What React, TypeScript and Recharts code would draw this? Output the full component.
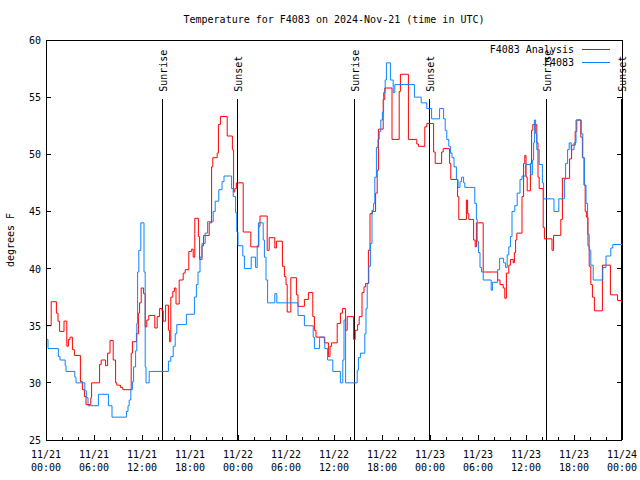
import React from 'react';
import { LineChart, Line, XAxis, YAxis, ReferenceLine } from 'recharts';

// hours since 2024-11-21 00:00 UTC
const redTimes = [
  0, 0.65, 1.3, 1.5, 1.7, 2.25, 2.6, 2.8, 3.0, 3.3, 3.55, 4.3, 4.55, 4.8, 5.0, 5.6, 5.7, 6.7, 6.9, 7.45,
  7.7, 8.0, 8.4, 8.7, 8.85, 9.3, 9.6, 10.65, 10.8, 11.3, 11.55, 11.7, 11.9, 12.2, 12.4, 12.6, 12.85, 13.6, 13.9, 14.2,
  14.5, 14.65, 14.95, 15.3, 15.45, 15.6, 15.85, 16.05, 16.25, 16.65, 17.15, 17.4, 17.85, 18.2, 18.4, 18.6, 19.05, 19.2, 19.5, 19.7,
  20.4, 20.7, 20.85, 21.4, 21.55, 21.8, 22.65, 23.3, 23.45, 23.6, 23.8, 24.65, 25.6, 26.6, 26.75, 27.65, 27.9, 28.6, 28.8, 29.55,
  29.8, 30.0, 30.15, 30.6, 31.3, 31.5, 32.3, 32.8, 33.35, 33.55, 33.75, 34.8, 35.3, 35.5, 35.7, 36.4, 36.8, 37.05, 37.45, 37.65,
  38.45, 38.65, 38.95, 39.15, 39.5, 39.75, 39.95, 40.3, 40.5, 40.8, 41.2, 41.4, 41.55, 42.15, 42.35, 43.25, 44.15, 44.3, 45.3, 46.35,
  46.55, 47.35, 47.6, 48.45, 48.65, 49.45, 49.65, 50.45, 50.6, 51.45, 51.6, 52.55, 52.7, 52.85, 53.45, 53.65, 53.8, 54.65, 56.45, 56.75,
  57.15, 57.35, 57.55, 57.85, 58.05, 58.4, 58.55, 58.7, 58.85, 59.5, 59.7, 59.85, 60.0, 60.15, 60.55, 60.7, 60.85, 61.35, 61.5, 61.65,
  62.15, 62.3, 63.25, 63.45, 64.35, 64.55, 65.45, 65.7, 66.15, 66.35, 66.85, 67.05, 67.25, 67.4, 67.55, 67.75, 67.9, 68.1, 68.3, 68.55,
  69.55, 70.55, 71.45, 72,
];
const redTemps = [
  35.0, 37.1, 36.1, 35.4, 34.5, 35.4, 33.2, 33.8, 34.0, 32.9, 32.4, 30.1, 29.4, 28.8, 28.1, 28.7, 30.0, 31.6, 32.0, 31.5,
  32.6, 33.7, 32.0, 30.0, 29.8, 29.6, 29.4, 32.6, 33.6, 34.3, 36.1, 37.0, 38.3, 37.8, 34.9, 35.5, 35.9, 34.8, 35.8, 36.5,
  36.3, 35.4, 36.8, 34.6, 33.6, 37.5, 38.0, 38.3, 36.9, 39.0, 39.6, 39.9, 41.5, 41.7, 41.0, 44.4, 42.8, 40.8, 42.0, 42.9,
  44.0, 48.9, 49.7, 50.1, 52.6, 53.3, 51.6, 50.4, 46.7, 47.0, 47.5, 43.2, 41.9, 43.7, 44.6, 41.6, 42.7, 41.8, 42.4, 40.2,
  39.3, 38.6, 36.2, 39.2, 37.7, 36.7, 37.3, 37.9, 35.8, 34.6, 34.0, 33.5, 32.3, 33.2, 33.5, 35.2, 36.1, 36.5, 34.6, 35.8,
  33.8, 34.6, 35.1, 35.8, 37.9, 38.4, 38.7, 41.6, 44.8, 45.0, 46.6, 48.6, 52.2, 54.8, 55.8, 51.3, 55.5, 57.0, 51.3, 50.9,
  50.7, 52.4, 52.7, 50.2, 49.2, 50.2, 50.5, 49.2, 47.8, 46.3, 44.3, 46.0, 44.8, 44.3, 42.5, 41.9, 44.0, 39.7, 39.0, 38.6,
  38.3, 37.4, 39.6, 40.3, 40.8, 40.5, 41.4, 42.5, 43.1, 46.3, 49.2, 49.9, 48.0, 46.8, 49.2, 52.1, 52.6, 51.0, 48.0, 47.0,
  43.6, 42.6, 41.6, 42.9, 44.3, 47.9, 49.6, 50.8, 52.0, 53.0, 51.5, 49.7, 47.3, 45.0, 44.5, 42.0, 40.2, 38.6, 37.5, 36.3,
  40.3, 37.7, 37.2, 37.0,
];

const blueTimes = [
  0, 0.25, 1.55, 1.75, 2.4, 2.5, 3.6, 3.75, 4.85, 5.05, 5.25, 6.55, 7.8, 8.25, 10.05, 10.25, 10.4, 10.6, 10.8, 10.95,
  11.2, 11.35, 11.45, 11.6, 11.85, 12.25, 12.4, 12.5, 12.9, 15.3, 15.6, 15.9, 16.15, 16.35, 17.55, 18.55, 18.8, 19.0, 19.25, 19.5,
  19.9, 20.2, 20.9, 21.15, 21.6, 22.0, 22.25, 23.2, 23.4, 23.7, 23.85, 24.0, 24.6, 24.8, 25.65, 26.2, 26.4, 26.55, 27.15, 27.3,
  27.5, 27.7, 28.6, 28.85, 31.5, 32.3, 33.4, 33.55, 34.2, 34.85, 35.2, 35.85, 36.8, 37.1, 37.25, 37.45, 38.9, 39.05, 39.3, 39.85,
  40.0, 40.15, 40.35, 40.55, 40.75, 40.95, 41.1, 41.3, 41.5, 41.65, 41.85, 42.05, 42.2, 42.4, 42.55, 43.05, 43.4, 43.6, 46.05, 46.9,
  47.6, 48.2, 49.2, 49.7, 49.9, 50.1, 50.35, 50.55, 50.75, 51.0, 51.3, 51.5, 51.75, 51.95, 52.2, 52.35, 53.6, 53.8, 53.9, 54.05,
  54.25, 54.45, 54.65, 55.65, 55.8, 56.45, 56.7, 57.2, 57.45, 57.65, 57.85, 58.05, 58.25, 58.6, 58.9, 59.25, 59.5, 59.95, 60.6, 60.8,
  60.95, 61.05, 61.2, 61.35, 61.65, 62.05, 62.2, 63.5, 64.1, 64.8, 64.95, 65.2, 65.4, 65.65, 66.0, 66.25, 66.9, 67.1, 67.3, 67.5,
  67.7, 67.9, 68.1, 68.4, 69.6, 70.0, 70.6, 70.85, 72,
];
const blueTemps = [
  33.8, 33.0, 32.3, 32.0, 31.5, 31.0, 30.5, 30.0, 29.3, 28.7, 28.0, 29.0, 28.0, 27.0, 27.5, 28.0, 28.5, 29.4, 30.1, 31.4,
  32.8, 35.2, 39.7, 41.6, 44.0, 39.7, 31.4, 30.0, 31.0, 31.9, 32.3, 33.2, 34.3, 35.1, 36.0, 37.5, 38.6, 39.7, 41.0, 42.2,
  43.1, 44.1, 45.0, 45.9, 46.9, 47.6, 48.1, 47.0, 46.3, 44.9, 43.2, 42.0, 41.1, 40.0, 41.0, 40.1, 42.0, 44.0, 42.5, 41.0,
  39.0, 37.0, 37.8, 37.0, 35.9, 35.0, 34.0, 33.0, 34.0, 33.0, 32.0, 31.0, 30.0, 32.0, 35.5, 30.0, 31.1, 32.2, 32.6, 34.3,
  36.5, 38.7, 40.2, 42.2, 45.1, 45.7, 48.0, 50.6, 51.3, 52.0, 53.0, 53.7, 55.4, 56.5, 58.0, 56.5, 55.4, 56.1, 55.0, 54.5,
  54.0, 53.1, 54.0, 53.1, 52.1, 51.3, 50.7, 50.1, 49.7, 48.9, 47.8, 47.1, 47.6, 48.0, 47.5, 47.1, 45.7, 44.3, 42.4, 41.4,
  40.1, 39.7, 39.0, 38.1, 38.8, 39.9, 40.9, 40.5, 40.1, 41.2, 41.9, 42.8, 45.0, 45.5, 46.6, 47.8, 48.1, 49.1, 48.2, 49.5,
  51.0, 53.0, 51.8, 50.4, 49.1, 47.5, 46.1, 45.0, 46.1, 47.8, 49.2, 50.4, 51.0, 50.4, 51.0, 53.0, 51.8, 49.7, 47.3, 45.7,
  43.0, 41.6, 40.3, 39.0, 40.1, 41.1, 41.8, 42.1, 42.1,
];

const sunEvents = [
  { t: 14.5, label: 'Sunrise' },
  { t: 23.875, label: 'Sunset' },
  { t: 38.5, label: 'Sunrise' },
  { t: 47.875, label: 'Sunset' },
  { t: 62.5, label: 'Sunrise' },
  { t: 71.875, label: 'Sunset' },
];

const xTicks = Array.from({ length: 37 }, (_, i) => i * 2);
const yTicks = [25, 30, 35, 40, 45, 50, 55, 60];

const redData = redTimes.map((t, i) => ({ t, v: redTemps[i] }));
const blueData = blueTimes.map((t, i) => ({ t, v: blueTemps[i] }));

const FONT = '"DejaVu Sans Mono", "Liberation Mono", monospace';
const pad = (n: number) => (n < 10 ? '0' + n : '' + n);

const BottomTick = (props: any) => {
  const { x, y, payload } = props;
  const h = payload.value;
  const major = h % 6 === 0;
  return (
    <g>
      <line x1={x} y1={y} x2={x} y2={y - (major ? 5 : 3)} stroke="#000" shapeRendering="crispEdges" />
      {major && (
        <text x={x} y={y + 18} textAnchor="middle" fontSize={10} fontFamily={FONT} fill="#000">
          <tspan x={x}>{`11/${21 + Math.floor(h / 24)}`}</tspan>
          <tspan x={x} dy={13}>{`${pad(h % 24)}:00`}</tspan>
        </text>
      )}
    </g>
  );
};

const TopTick = (props: any) => {
  const { x, y, payload } = props;
  const major = payload.value % 6 === 0;
  return <line x1={x} y1={y} x2={x} y2={y + (major ? 5 : 3)} stroke="#000" shapeRendering="crispEdges" />;
};

const LeftTick = (props: any) => {
  const { x, y, payload } = props;
  return (
    <g>
      <line x1={x} y1={y} x2={x + 5} y2={y} stroke="#000" shapeRendering="crispEdges" />
      <text x={x - 5} y={y + 4} textAnchor="end" fontSize={10} fontFamily={FONT} fill="#000">
        {payload.value}
      </text>
    </g>
  );
};

const RightTick = (props: any) => {
  const { x, y } = props;
  return <line x1={x} y1={y} x2={x - 5} y2={y} stroke="#000" shapeRendering="crispEdges" />;
};

const sunShape = (label: string) => (props: any) => {
  const { x1, y1, x2, y2 } = props;
  const top = Math.min(y1, y2);
  const ty = top - 7;
  return (
    <g>
      <line x1={x1} y1={y1} x2={x2} y2={y2} stroke="#000" strokeWidth={1} shapeRendering="crispEdges" />
      <text
        x={x1 + 1.5}
        y={ty}
        transform={`rotate(-90 ${x1 + 1.5} ${ty})`}
        textAnchor="start"
        dominantBaseline="central"
        fontSize={10}
        fontFamily={FONT}
        fill="#000"
      >
        {label}
      </text>
    </g>
  );
};

const axisLine = { stroke: '#000', shapeRendering: 'crispEdges' };

export default function App() {
  return (
    <div style={{ position: 'absolute', left: 0, top: 0, width: 640, height: 480, background: '#fff' }}>
      <LineChart width={640} height={480} margin={{ top: 39, right: 17, bottom: 39, left: 45 }}>
        <XAxis
          dataKey="t"
          type="number"
          domain={[0, 72]}
          allowDataOverflow
          ticks={xTicks}
          interval={0}
          tickSize={0}
          tickMargin={0}
          height={1}
          axisLine={axisLine}
          tickLine={false}
          tick={<BottomTick />}
        />
        <XAxis
          xAxisId="top"
          orientation="top"
          type="number"
          domain={[0, 72]}
          allowDataOverflow
          ticks={xTicks}
          interval={0}
          tickSize={0}
          tickMargin={0}
          height={1}
          axisLine={axisLine}
          tickLine={false}
          tick={<TopTick />}
        />
        <YAxis
          type="number"
          domain={[25, 60]}
          allowDataOverflow
          ticks={yTicks}
          interval={0}
          tickSize={0}
          tickMargin={0}
          width={1}
          axisLine={axisLine}
          tickLine={false}
          tick={<LeftTick />}
        />
        <YAxis
          yAxisId="right"
          orientation="right"
          type="number"
          domain={[25, 60]}
          allowDataOverflow
          ticks={yTicks}
          interval={0}
          tickSize={0}
          tickMargin={0}
          width={1}
          axisLine={axisLine}
          tickLine={false}
          tick={<RightTick />}
        />
        {sunEvents.map((e, i) => (
          <ReferenceLine
            key={i}
            segment={[{ x: e.t, y: 54.85 }, { x: e.t, y: 25 }]}
            stroke="#000"
            shape={sunShape(e.label)}
          />
        ))}
        <Line
          data={redData}
          dataKey="v"
          type="stepAfter"
          stroke="#ff0000"
          strokeWidth={1}
          dot={false}
          isAnimationActive={false}
        />
        <Line
          data={blueData}
          dataKey="v"
          type="stepAfter"
          stroke="#0a84ff"
          strokeWidth={1}
          dot={false}
          isAnimationActive={false}
        />
      </LineChart>
      <svg
        width={640}
        height={480}
        style={{ position: 'absolute', left: 0, top: 0, pointerEvents: 'none' }}
        fontFamily={FONT}
        fontSize={10}
      >
        <text x={334} y={23} textAnchor="middle" fill="#000">
          Temperature for F4083 on 2024-Nov-21 (time in UTC)
        </text>
        <text x={10} y={240} transform="rotate(-90 10 240)" textAnchor="middle" dominantBaseline="central" fill="#000">
          degrees F
        </text>
        <text x={574} y={53} textAnchor="end" fill="#000">F4083 Analysis</text>
        <line x1={582} y1={49.5} x2={610} y2={49.5} stroke="#ff0000" />
        <text x={574} y={66} textAnchor="end" fill="#000">F4083</text>
        <line x1={582} y1={62.5} x2={610} y2={62.5} stroke="#0a84ff" />
      </svg>
    </div>
  );
}
